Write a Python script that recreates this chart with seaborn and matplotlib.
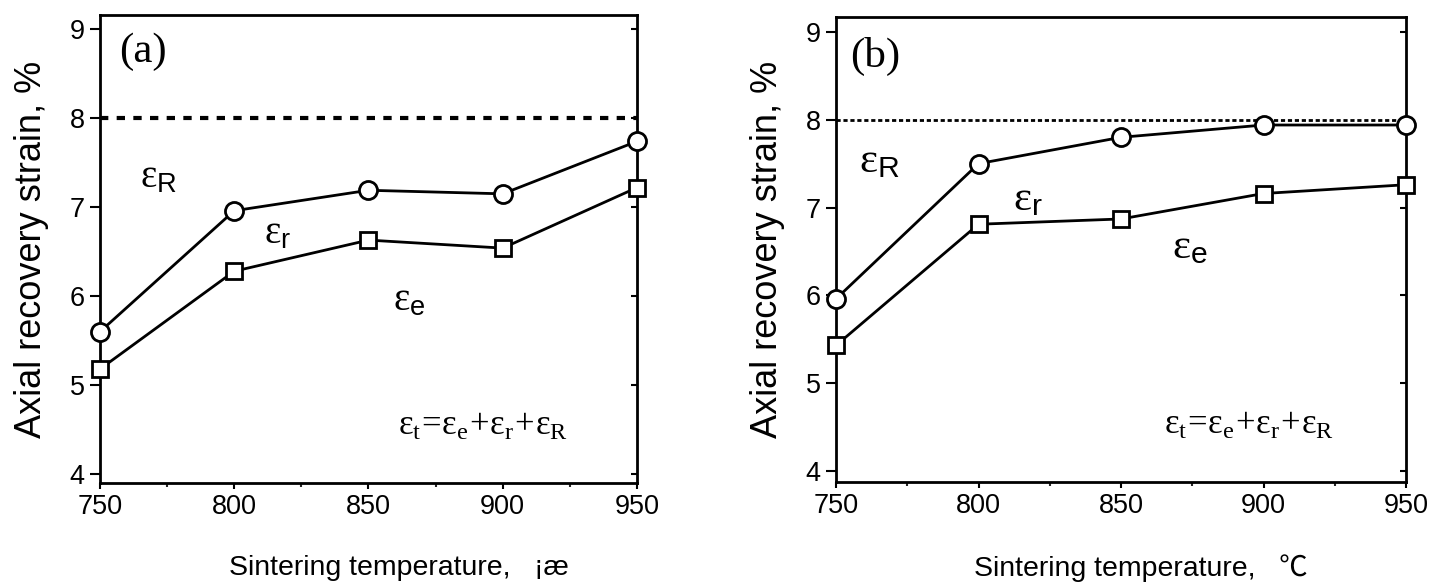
import matplotlib
matplotlib.use("Agg")
import matplotlib.pyplot as plt
import matplotlib.lines as mlines
import seaborn as sns
import pandas as pd

temps = [750, 800, 850, 900, 950]

# panel (a)
a_circle = [5.60, 6.96, 7.19, 7.15, 7.74]
a_square = [5.18, 6.28, 6.63, 6.54, 7.22]
# panel (b)
b_circle = [5.96, 7.50, 7.80, 7.94, 7.94]
b_square = [5.43, 6.81, 6.87, 7.16, 7.26]

limit_strain = 8.0
y_ticks = [4, 5, 6, 7, 8, 9]

sns.set_style("ticks")
plt.rcParams['font.family'] = ['Liberation Sans', 'DejaVu Sans']
plt.rcParams['text.color'] = 'black'
plt.rcParams['axes.labelcolor'] = 'black'
plt.rcParams['mathtext.fontset'] = 'custom'
plt.rcParams['mathtext.rm'] = 'Liberation Serif'
plt.rcParams['mathtext.it'] = 'Liberation Serif'
plt.rcParams['mathtext.sf'] = 'Liberation Sans'

fig = plt.figure(figsize=(14.34, 5.86), dpi=100)
ax_a = fig.add_axes([0.0697, 0.1758, 0.3745, 0.7986])
ax_b = fig.add_axes([0.583, 0.1775, 0.3975, 0.7935])


def draw_panel(ax, circ, sq, ylim, tag, xlabel, xlabel_family, xlabel_x,
               dash, dash_lw, lab_pos, eps_size):
    df = pd.DataFrame({'T': temps, 'circle': circ, 'square': sq})
    sns.lineplot(data=df, x='T', y='circle', ax=ax, color='black', lw=2,
                 marker='o', markersize=13, markerfacecolor='white',
                 markeredgecolor='black', markeredgewidth=2, zorder=5,
                 clip_on=False)
    sns.lineplot(data=df, x='T', y='square', ax=ax, color='black', lw=2,
                 marker='s', markersize=12, markerfacecolor='white',
                 markeredgecolor='black', markeredgewidth=2, zorder=5,
                 clip_on=False)
    ax.axhline(limit_strain, color='black', lw=dash_lw, linestyle=(0, dash),
               zorder=3)

    ax.set_xlim(750, 950)
    ax.set_ylim(*ylim)
    ax.set_xticks(temps)
    ax.set_xticks([775, 825, 875, 925], minor=True)
    ax.set_yticks(y_ticks)
    ax.tick_params(axis='both', which='major', labelsize=19.5, width=1.5,
                   length=7, color='black', labelcolor='black', pad=4)
    ax.tick_params(axis='x', which='major', length=4)
    ax.tick_params(axis='x', which='minor', length=3, width=1.5)
    ax.tick_params(axis='y', which='major', right=True)
    # small inward ticks on the right spine
    for t in ax.yaxis.get_major_ticks():
        t.tick2line.set_marker(mlines.TICKLEFT)
        t.tick2line.set_markersize(4)
    for s in ax.spines.values():
        s.set_visible(True)
        s.set_linewidth(2)
        s.set_color('black')

    ax.set_ylabel('Axial recovery strain, %', fontsize=26, labelpad=15)
    ax.set_xlabel(xlabel, fontsize=20.5, labelpad=25, family=xlabel_family)
    ax.xaxis.label.set_x(xlabel_x)

    ax.text(lab_pos['tag'][0], lab_pos['tag'][1], tag, fontsize=31,
            family='Liberation Serif', ha='left', va='center')
    for key in ('R', 'r', 'e'):
        ax.text(*lab_pos[key], '$\\mathrm{ε}_{\\mathsf{%s}}$' % key,
                fontsize=eps_size, ha='left', va='center')
    ax.text(*lab_pos['f'],
            '$\\mathrm{ε_t\\!=\\!ε_e\\!+\\!ε_r\\!+\\!ε_R}$',
            fontsize=25, ha='left', va='center')


draw_panel(ax_a, a_circle, a_square, (3.9, 9.16), '(a)',
           'Sintering temperature,   \u00a1\u00e6', ['Liberation Sans'], 0.557,
           (2, 2), 3,
           {'tag': (757, 8.75), 'R': (765, 7.34), 'r': (811, 6.71),
            'e': (859, 5.95), 'f': (861, 4.55)}, 28)
draw_panel(ax_b, b_circle, b_square, (3.875, 9.17), '(b)',
           'Sintering temperature,   \u2103',
           ['Liberation Sans', 'Noto Sans CJK SC'], 0.535,
           (1.5, 1), 2,
           {'tag': (755, 8.72), 'R': (758, 7.53), 'r': (812, 7.09),
            'e': (868, 6.55), 'f': (865, 4.53)}, 31)

fig.savefig('out.png', dpi=100)
